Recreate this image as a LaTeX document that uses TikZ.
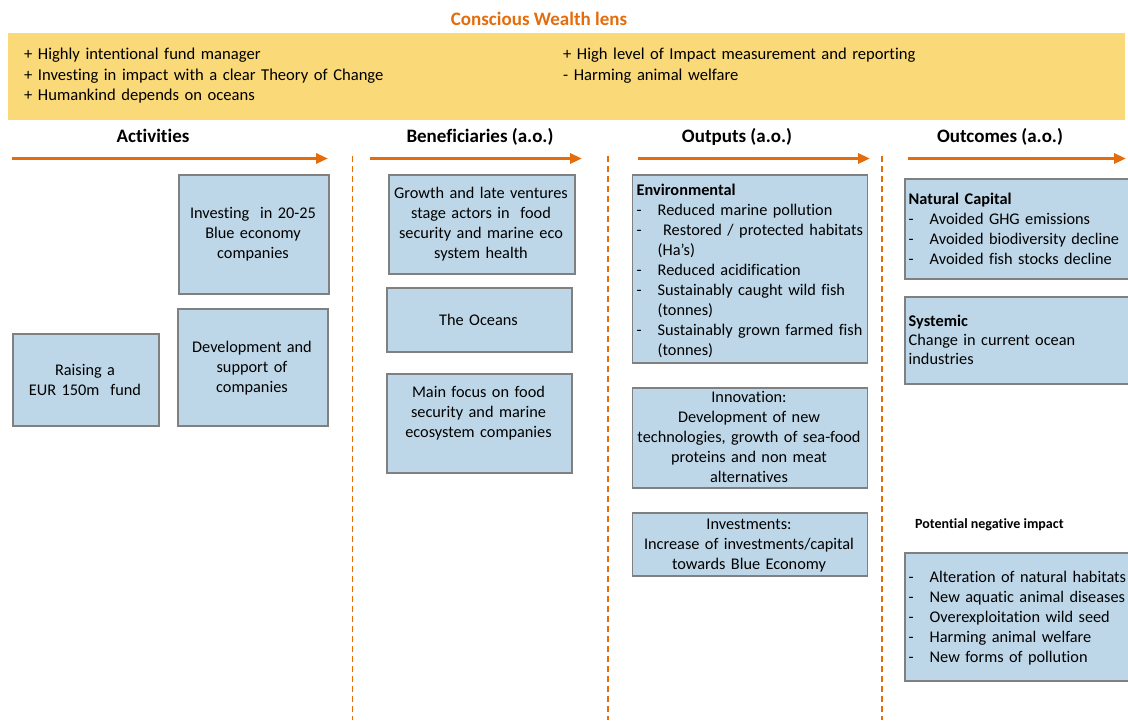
\documentclass[tikz,border=0pt]{standalone}
\usepackage{fontspec}
\setmainfont{Carlito}[Ligatures=NoCommon]
\usetikzlibrary{arrows.meta}
\definecolor{lensorange}{RGB}{228,108,10}
\definecolor{lensyellow}{RGB}{250,217,120}
\definecolor{cellblue}{RGB}{189,215,232}
\definecolor{cellgray}{RGB}{128,128,128}
% list line with a leading dash, and an indent for continuation lines
\newcommand{\dashitem}[1]{\makebox[21pt][l]{-}#1}
\newcommand{\dashgap}{\hspace*{21pt}}

\begin{document}
\begin{tikzpicture}[x=1pt,y=-1pt,
  cell/.style={draw=cellgray, fill=cellblue, line width=1.6pt, inner sep=0pt, anchor=north west},
  body/.style={font=\fontsize{16.3}{20}\selectfont, inner sep=0pt},
  listtext/.style={body, text width=300pt, align=left, anchor=base west},
  lenstext/.style={font=\fontsize{16.6}{20.5}\selectfont, inner sep=0pt, text width=520pt, align=left, anchor=base west},
  head/.style={font=\fontsize{19}{22}\selectfont\bfseries, inner sep=0pt, anchor=base},
  flow/.style={draw=lensorange, line width=3.5pt, -{Triangle[length=12pt,width=10pt]}},
  divider/.style={draw=lensorange, line width=1.6pt, dash pattern=on 6pt off 4pt}]
\useasboundingbox (0,0) rectangle (1128,723);
\clip (0,0) rectangle (1128,723);
\hyphenpenalty=10000

% title and lens band
\node[head, text=lensorange] (lens-title) at (539,25.5) {Conscious Wealth lens};
\node[fill=lensyellow, anchor=north west, minimum width=1117pt, minimum height=87pt, inner sep=0pt] (band) at (8,33) {};
\node[lenstext] (lens-left) at (24,59.5) {+ Highly intentional fund manager\\+ Investing in impact with a clear Theory of Change\\+ Humankind depends on oceans};
\node[lenstext] (lens-right) at (563,59.5) {+ High level of Impact measurement and reporting\\- Harming animal welfare};

% column headers
\node[head] (h-act) at (153,142) {Activities};
\node[head] (h-ben) at (480,142) {Beneficiaries (a.o.)};
\node[head] (h-out) at (737,142) {Outputs (a.o.)};
\node[head] (h-res) at (1000,142) {Outcomes (a.o.)};

% flow arrows
\coordinate (a1s) at (12,158.5);  \coordinate (a1e) at (328,158.5);
\coordinate (a2s) at (370,158.5); \coordinate (a2e) at (582,158.5);
\coordinate (a3s) at (638,158.5); \coordinate (a3e) at (870,158.5);
\coordinate (a4s) at (908,158.5); \coordinate (a4e) at (1126,158.5);
\draw[flow] (a1s) -- (a1e);
\draw[flow] (a2s) -- (a2e);
\draw[flow] (a3s) -- (a3e);
\draw[flow] (a4s) -- (a4e);

% column dividers
\coordinate (d1t) at (352.5,156); \coordinate (d1b) at (352.5,720);
\coordinate (d2t) at (608,156);   \coordinate (d2b) at (608,720);
\coordinate (d3t) at (882,156);   \coordinate (d3b) at (882,720);
\draw[divider] (d1t) -- (d1b);
\draw[divider] (d2t) -- (d2b);
\draw[divider] (d3t) -- (d3b);

% activities
\node[cell, minimum width=150pt, minimum height=119pt] (invest) at (178,174) {};
\node[body, text width=150pt, align=center, anchor=base] (invest-t) at (253,218) {Investing\ \ in 20-25\\Blue economy\\companies};
\node[cell, minimum width=150pt, minimum height=117pt] (develop) at (177,308) {};
\node[body, text width=150pt, align=center, anchor=base] (develop-t) at (252,352) {Development and\\support of\\companies};
\node[cell, minimum width=146pt, minimum height=92pt] (raise) at (12,333) {};
\node[body, text width=146pt, align=center, anchor=base] (raise-t) at (85,375) {Raising a\\EUR 150m\ \ fund};

% beneficiaries
\node[cell, minimum width=186pt, minimum height=99pt] (growth) at (388,174) {};
\node[body, text width=186pt, align=center, anchor=base] (growth-t) at (481,198) {Growth and late ventures\\stage actors in\ \ food\\security and marine eco\\system health};
\node[cell, minimum width=185pt, minimum height=64pt] (oceans) at (386,287) {};
\node[body, text width=185pt, align=center, anchor=base] (oceans-t) at (478.5,325) {The Oceans};
\node[cell, minimum width=185pt, minimum height=99pt] (focus) at (386,373) {};
\node[body, text width=185pt, align=center, anchor=base] (focus-t) at (478.5,397) {Main focus on food\\security and marine\\ecosystem companies};

% outputs
\node[cell, minimum width=235pt, minimum height=188pt] (env) at (631.5,174) {};
\node[listtext] (env-t) at (636.5,195) {\textbf{Environmental}\\
\dashitem{Reduced marine pollution}\\
\dashitem{\ Restored / protected habitats}\\
\dashgap(Ha’s)\\
\dashitem{Reduced acidification}\\
\dashitem{Sustainably caught wild fish}\\
\dashgap(tonnes)\\
\dashitem{Sustainably grown farmed fish}\\
\dashgap(tonnes)};
\node[cell, minimum width=235pt, minimum height=100pt] (innov) at (631.5,387) {};
\node[body, text width=235pt, align=center, anchor=base] (innov-t) at (749,402) {Innovation:\\Development of new\\technologies, growth of sea-food\\proteins and non meat\\alternatives};
\node[cell, minimum width=235pt, minimum height=63pt] (invst) at (631.5,512) {};
\node[body, text width=235pt, align=center, anchor=base] (invst-t) at (749,529) {Investments:\\Increase of investments/capital\\towards Blue Economy};

% outcomes
\node[cell, minimum width=240pt, minimum height=100pt] (natcap) at (904,178) {};
\node[listtext] (natcap-t) at (908.5,204) {\textbf{Natural Capital}\\
\dashitem{Avoided GHG emissions}\\
\dashitem{Avoided biodiversity decline}\\
\dashitem{Avoided fish stocks decline}};
\node[cell, minimum width=240pt, minimum height=87pt] (system) at (904,296) {};
\node[listtext, font=\fontsize{16.3}{19}\selectfont] (system-t) at (908.5,326) {\textbf{Systemic}\\Change in current ocean\\industries};
\node[font=\fontsize{14}{16}\selectfont\bfseries, inner sep=0pt, anchor=base west] (neg-title) at (915,528) {Potential negative impact};
\node[cell, minimum width=240pt, minimum height=128pt] (neg) at (904,552) {};
\node[listtext] (neg-t) at (908.5,582) {\dashitem{Alteration of natural habitats}\\
\dashitem{New aquatic animal diseases}\\
\dashitem{Overexploitation wild seed}\\
\dashitem{Harming animal welfare}\\
\dashitem{New forms of pollution}};
\end{tikzpicture}
\end{document}
